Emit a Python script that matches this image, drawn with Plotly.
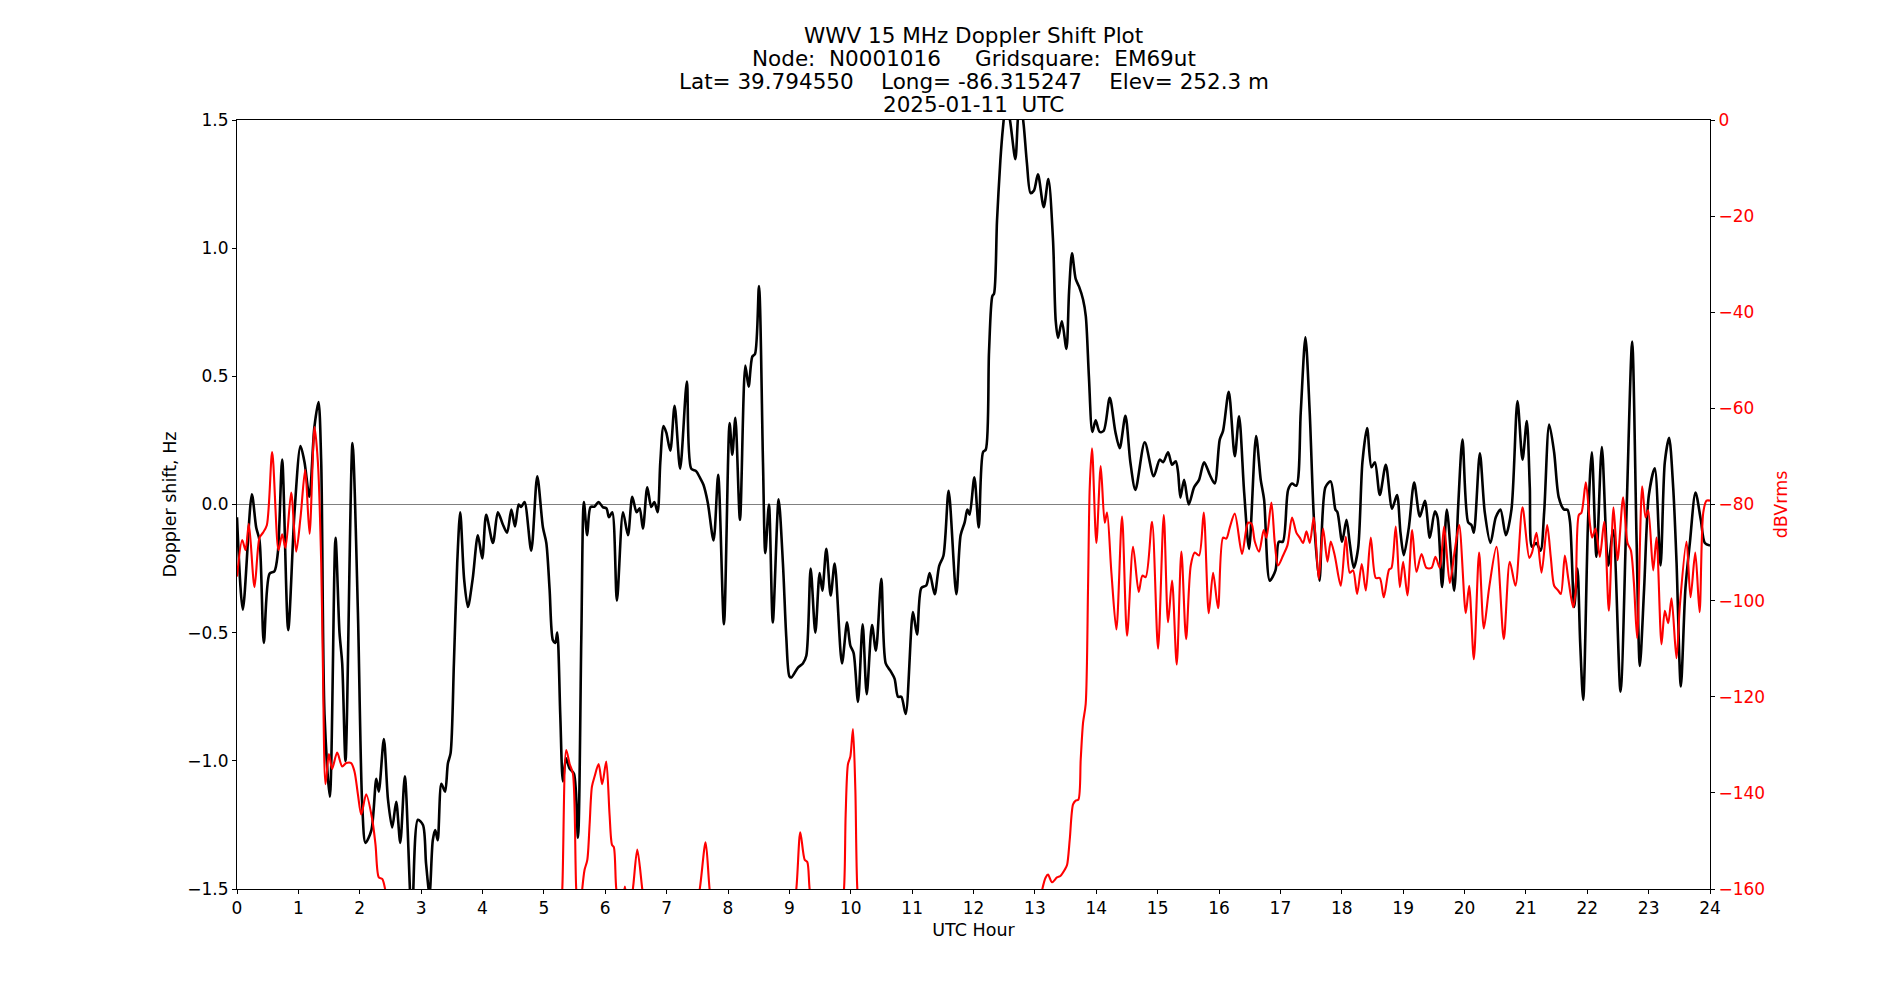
import plotly.graph_objects as go

# ---------------- data ----------------
doppler_hours = [0.0, 0.095, 0.242, 0.313, 0.367, 0.437, 0.53, 0.61, 0.665, 0.736, 0.834, 0.937, 1.035, 1.10, 1.18, 1.26, 1.328, 1.372, 1.426, 1.513, 1.605, 1.67, 1.714, 1.768, 1.882, 1.97, 2.04, 2.094, 2.19, 2.27, 2.31, 2.393, 2.46, 2.529, 2.594, 2.66, 2.735, 2.85, 2.947, 3.03, 3.08, 3.137, 3.19, 3.23, 3.27, 3.33, 3.39, 3.436, 3.48, 3.534, 3.588, 3.637, 3.70, 3.762, 3.84, 3.925, 3.996, 4.06, 4.17, 4.25, 4.33, 4.40, 4.47, 4.53, 4.59, 4.63, 4.685, 4.794, 4.892, 4.985, 5.04, 5.093, 5.147, 5.185, 5.218, 5.267, 5.31, 5.36, 5.42, 5.49, 5.555, 5.61, 5.652, 5.706, 5.76, 5.826, 5.89, 5.96, 6.02, 6.06, 6.114, 6.19, 6.29, 6.37, 6.44, 6.51, 6.56, 6.614, 6.685, 6.75, 6.80, 6.853, 6.897, 6.95, 6.995, 7.06, 7.13, 7.22, 7.33, 7.40, 7.48, 7.54, 7.60, 7.67, 7.765, 7.84, 7.934, 8.026, 8.07, 8.12, 8.195, 8.282, 8.336, 8.396, 8.44, 8.505, 8.57, 8.608, 8.667, 8.73, 8.825, 8.895, 8.95, 9.00, 9.032, 9.14, 9.22, 9.276, 9.347, 9.423, 9.493, 9.537, 9.602, 9.673, 9.738, 9.857, 9.94, 9.993, 10.047, 10.118, 10.194, 10.26, 10.346, 10.41, 10.498, 10.57, 10.65, 10.715, 10.77, 10.824, 10.895, 11.014, 11.08, 11.15, 11.23, 11.286, 11.367, 11.44, 11.51, 11.595, 11.72, 11.79, 11.856, 11.90, 11.937, 12.014, 12.085, 12.155, 12.2, 12.253, 12.307, 12.335, 12.383, 12.438, 12.48, 12.535, 12.60, 12.682, 12.725, 12.763, 12.818, 12.87, 12.93, 12.986, 13.05, 13.144, 13.22, 13.296, 13.34, 13.378, 13.44, 13.514, 13.557, 13.605, 13.665, 13.72, 13.785, 13.83, 13.88, 13.937, 13.99, 14.056, 14.12, 14.22, 14.312, 14.382, 14.475, 14.556, 14.638, 14.79, 14.936, 15.034, 15.09, 15.17, 15.235, 15.295, 15.333, 15.371, 15.431, 15.507, 15.594, 15.675, 15.757, 15.85, 15.93, 16.012, 16.066, 16.159, 16.257, 16.327, 16.41, 16.49, 16.604, 16.68, 16.735, 16.827, 16.92, 16.975, 17.04, 17.126, 17.19, 17.26, 17.332, 17.408, 17.478, 17.55, 17.636, 17.734, 17.82, 17.897, 17.93, 18.006, 18.077, 18.13, 18.196, 18.267, 18.337, 18.413, 18.484, 18.54, 18.62, 18.718, 18.82, 18.9, 18.957, 19.011, 19.093, 19.18, 19.272, 19.355, 19.435, 19.516, 19.56, 19.635, 19.712, 19.831, 19.896, 19.967, 20.06, 20.113, 20.152, 20.25, 20.33, 20.423, 20.51, 20.586, 20.673, 20.765, 20.863, 20.945, 21.015, 21.064, 21.1, 21.17, 21.24, 21.298, 21.38, 21.46, 21.537, 21.624, 21.678, 21.72, 21.787, 21.84, 21.885, 21.934, 22.015, 22.075, 22.15, 22.238, 22.341, 22.422, 22.542, 22.64, 22.732, 22.803, 22.857, 22.927, 23.004, 23.1, 23.194, 23.264, 23.334, 23.4, 23.455, 23.525, 23.6, 23.672, 23.764, 23.85, 23.916, 24.0]
doppler_hz = [-0.05, -0.41, 0.04, -0.09, -0.14, -0.54, -0.27, -0.26, -0.19, 0.175, -0.49, -0.03, 0.228, 0.165, 0.03, 0.30, 0.40, 0.165, -0.82, -1.14, -0.13, -0.50, -0.62, -1.0, 0.24, -0.42, -1.17, -1.32, -1.27, -1.07, -1.12, -0.915, -1.15, -1.26, -1.16, -1.32, -1.06, -1.62, -1.23, -1.25, -1.40, -1.52, -1.31, -1.27, -1.31, -1.09, -1.12, -1.01, -0.97, -0.62, -0.23, -0.03, -0.29, -0.40, -0.29, -0.12, -0.21, -0.04, -0.15, -0.03, -0.077, -0.11, -0.02, -0.086, 0.0, -0.01, 0.01, -0.18, 0.11, -0.09, -0.15, -0.33, -0.53, -0.54, -0.50, -0.82, -1.08, -0.99, -1.03, -1.05, -1.30, -0.52, 0.01, -0.12, -0.01, -0.008, 0.01, -0.01, -0.015, -0.05, -0.03, -0.375, -0.03, -0.12, 0.03, -0.03, -0.015, -0.094, 0.067, -0.01, 0.01, -0.03, 0.165, 0.306, 0.28, 0.21, 0.385, 0.14, 0.48, 0.14, 0.13, 0.106, 0.077, 0.008, -0.14, 0.116, -0.467, 0.318, 0.194, 0.338, -0.06, 0.542, 0.46, 0.577, 0.587, 0.852, 0.165, -0.19, 0.0, -0.46, 0.02, -0.23, -0.52, -0.67, -0.675, -0.636, -0.62, -0.59, -0.25, -0.50, -0.267, -0.336, -0.173, -0.355, -0.23, -0.62, -0.46, -0.55, -0.58, -0.77, -0.467, -0.74, -0.47, -0.57, -0.29, -0.62, -0.65, -0.68, -0.75, -0.75, -0.817, -0.42, -0.507, -0.326, -0.316, -0.267, -0.35, -0.24, -0.2, 0.053, -0.35, -0.12, -0.07, -0.02, -0.04, 0.106, -0.09, 0.204, 0.214, 0.597, 0.813, 0.823, 1.107, 1.343, 1.47, 1.58, 1.49, 1.347, 1.51, 1.58, 1.48, 1.333, 1.215, 1.225, 1.288, 1.16, 1.27, 1.03, 0.715, 0.65, 0.715, 0.607, 0.83, 0.98, 0.88, 0.85, 0.80, 0.734, 0.50, 0.283, 0.328, 0.283, 0.287, 0.416, 0.283, 0.22, 0.346, 0.165, 0.057, 0.243, 0.11, 0.175, 0.165, 0.204, 0.155, 0.169, 0.126, 0.027, 0.096, 0.0, 0.067, 0.096, 0.165, 0.116, 0.082, 0.253, 0.287, 0.44, 0.188, 0.344, 0.047, -0.173, 0.267, 0.096, 0.018, -0.297, -0.257, -0.145, -0.145, 0.057, 0.082, 0.073, 0.36, 0.652, 0.36, -0.07, -0.297, 0.067, 0.09, -0.02, -0.03, -0.145, -0.06, -0.15, -0.247, -0.17, 0.165, 0.298, 0.145, 0.165, 0.037, 0.155, -0.016, 0.037, -0.11, -0.198, -0.09, 0.086, -0.047, 0.014, -0.13, -0.027, -0.05, -0.322, -0.02, -0.336, -0.012, 0.253, -0.07, -0.08, -0.11, 0.2, -0.03, -0.15, -0.05, -0.02, -0.12, -0.02, 0.404, 0.175, 0.326, 0.067, -0.165, -0.15, -0.18, -0.03, 0.312, 0.204, 0.027, -0.02, -0.02, -0.07, -0.40, -0.25, -0.54, -0.762, -0.05, 0.204, -0.204, 0.224, -0.238, -0.1, -0.73, -0.03, 0.636, -0.13, -0.63, -0.326, 0.037, 0.141, -0.238, 0.165, 0.26, 0.067, -0.226, -0.71, -0.326, -0.15, 0.047, -0.06, -0.15, -0.16]

power_hours = [0.0, 0.085, 0.139, 0.193, 0.285, 0.367, 0.421, 0.486, 0.573, 0.676, 0.736, 0.79, 0.883, 0.964, 1.035, 1.111, 1.182, 1.263, 1.318, 1.372, 1.399, 1.442, 1.497, 1.55, 1.632, 1.714, 1.779, 1.86, 1.915, 1.97, 2.024, 2.105, 2.203, 2.257, 2.311, 2.366, 2.42, 2.5, 3.5, 4.5, 5.25, 5.30, 5.364, 5.42, 5.473, 5.527, 5.575, 5.625, 5.663, 5.707, 5.745, 5.783, 5.826, 5.892, 5.95, 6.016, 6.07, 6.11, 6.14, 6.18, 6.25, 6.32, 6.38, 6.45, 6.522, 6.603, 6.7, 7.4, 7.54, 7.635, 7.70, 7.8, 9.0, 9.113, 9.178, 9.249, 9.292, 9.33, 9.45, 9.8, 9.89, 9.917, 9.955, 9.993, 10.036, 10.075, 10.107, 10.2, 13.0, 13.122, 13.176, 13.214, 13.28, 13.36, 13.415, 13.486, 13.524, 13.568, 13.622, 13.665, 13.709, 13.747, 13.785, 13.828, 13.866, 13.894, 13.931, 14.002, 14.073, 14.138, 14.176, 14.247, 14.328, 14.42, 14.502, 14.6, 14.692, 14.752, 14.806, 14.909, 15.007, 15.1, 15.17, 15.235, 15.311, 15.387, 15.464, 15.54, 15.605, 15.675, 15.751, 15.833, 15.904, 15.985, 16.066, 16.12, 16.175, 16.257, 16.376, 16.474, 16.53, 16.583, 16.653, 16.729, 16.773, 16.854, 16.909, 16.963, 17.044, 17.115, 17.19, 17.262, 17.316, 17.37, 17.425, 17.479, 17.544, 17.625, 17.696, 17.767, 17.821, 17.886, 17.984, 18.066, 18.131, 18.185, 18.25, 18.326, 18.392, 18.473, 18.555, 18.62, 18.685, 18.772, 18.81, 18.88, 18.946, 19.0, 19.07, 19.147, 19.217, 19.3, 19.38, 19.462, 19.527, 19.598, 19.668, 19.76, 19.842, 19.913, 20.021, 20.076, 20.152, 20.238, 20.315, 20.401, 20.521, 20.64, 20.738, 20.83, 20.945, 21.055, 21.1, 21.173, 21.255, 21.347, 21.407, 21.461, 21.526, 21.57, 21.635, 21.69, 21.77, 21.809, 21.863, 21.906, 21.977, 22.042, 22.08, 22.135, 22.205, 22.276, 22.352, 22.428, 22.493, 22.585, 22.656, 22.71, 22.76, 22.813, 22.895, 22.95, 22.993, 23.074, 23.129, 23.21, 23.264, 23.319, 23.373, 23.454, 23.509, 23.617, 23.683, 23.76, 23.83, 23.89, 23.944, 24.0]
power_dbv = [-95, -87.4, -89.5, -84, -97.2, -86.9, -85.9, -84.3, -69.1, -89.5, -86.2, -89, -77.5, -89.8, -82.7, -72.8, -86.1, -63.9, -71.2, -92.1, -113, -138.2, -131.9, -135, -131.6, -134.5, -133.8, -133.8, -135.6, -140.3, -144.5, -140.3, -145.5, -150.8, -157.6, -157.9, -160.5, -170, -175, -175, -170, -160, -131.1, -134, -136, -160, -168, -160, -156, -154, -146.6, -138.7, -136.6, -134, -138.2, -133.5, -144.5, -150.8, -151.3, -160, -165, -159.5, -165, -160, -151.8, -160, -170, -170, -160, -150.3, -160, -170, -170, -160, -148.2, -153.9, -154.4, -160, -170, -170, -160, -144.5, -134, -132.5, -126.7, -139.3, -160, -175, -170, -160, -157.6, -157, -158.6, -157.6, -157.3, -156, -155, -149.7, -142.4, -141.6, -141.4, -133, -125.4, -121.5, -97.4, -76.4, -68.3, -88, -72, -83.8, -81.7, -94.2, -106, -82.5, -107.3, -88.8, -98.2, -94.8, -95.1, -83.6, -110, -82.2, -104.5, -95.8, -113.3, -89.8, -108, -92.7, -90, -90.6, -81.7, -102.6, -94.2, -101.6, -86.9, -87.1, -84.8, -81.9, -90.3, -83.8, -84, -87.7, -89.8, -85.3, -86.9, -79.6, -88, -92.7, -90.6, -88.5, -82.7, -85.9, -86.9, -88, -85.6, -88, -82.7, -95.5, -85, -91.9, -87.7, -90.6, -96.9, -86.7, -94.2, -93.7, -98.6, -92.4, -97.9, -86.9, -95.3, -95.3, -99.3, -93.5, -93.2, -84.6, -97.2, -91.9, -98.9, -85.3, -94, -90.3, -93.2, -93.2, -90.9, -93.2, -84.6, -96.3, -89.5, -84.3, -102.6, -96.9, -112.2, -90, -105.8, -97.4, -88.8, -108, -91.9, -96.9, -80.6, -91.1, -90, -85.9, -94.2, -84.3, -91.1, -96.9, -97.9, -98.6, -90.6, -95.3, -101.4, -98.4, -82.2, -81.7, -75.4, -83.8, -86.9, -85, -90.9, -83.6, -102.1, -80.6, -91.6, -78.5, -88, -89.5, -96.3, -107.8, -76.2, -82.7, -81.2, -93.7, -86.9, -109.1, -102.1, -104.7, -99.5, -112, -101, -87.7, -99.3, -90, -102.4, -81.7, -79.2, -79.2]

hour_ticks = list(range(0, 25))
doppler_ticks = [-1.5, -1.0, -0.5, 0.0, 0.5, 1.0, 1.5]
power_ticks = [0, -20, -40, -60, -80, -100, -120, -140, -160]

title_lines = [
    "WWV 15 MHz Doppler Shift Plot",
    "Node:  N0001016     Gridsquare:  EM69ut",
    "Lat= 39.794550    Long= -86.315247    Elev= 252.3 m",
    "2025-01-11  UTC",
]

FONT = "DejaVu Sans"

fig = go.Figure()
fig.add_trace(go.Scatter(x=doppler_hours, y=doppler_hz, mode="lines",
                         line=dict(color="black", width=2.6, shape="spline", smoothing=0.8),
                         yaxis="y", showlegend=False, hoverinfo="skip"))
fig.add_trace(go.Scatter(x=power_hours, y=power_dbv, mode="lines",
                         line=dict(color="red", width=2.1, shape="spline", smoothing=0.8),
                         yaxis="y2", showlegend=False, hoverinfo="skip"))

fig.add_shape(type="line", xref="x", yref="y", x0=0, x1=24, y0=0, y1=0,
              line=dict(color="#808080", width=1), layer="below")

annots = []
shifts = [85, 62, 39, 16]
for txt, s in zip(title_lines, shifts):
    annots.append(dict(text=txt, xref="paper", yref="paper", x=0.5, y=1,
                       xanchor="center", yanchor="middle", yshift=s, showarrow=False,
                       font=dict(family=FONT, size=21.5, color="black")))

fig.update_layout(
    width=1900, height=1000,
    margin=dict(l=237, r=190, t=120, b=111),
    paper_bgcolor="white", plot_bgcolor="white",
    font=dict(family=FONT, size=17, color="black"),
    annotations=annots,
    xaxis=dict(range=[0, 24], tickvals=hour_ticks, ticktext=[str(h) for h in hour_ticks],
               showgrid=False, zeroline=False, showline=True, linecolor="black", linewidth=1,
               mirror=True, ticks="outside", ticklen=4, tickwidth=1, tickcolor="black",
               tickfont=dict(family=FONT, size=17, color="black"),
               title=dict(text="UTC Hour", font=dict(family=FONT, size=17.5, color="black"), standoff=6)),
    yaxis=dict(range=[-1.5, 1.5], tickvals=doppler_ticks, tickformat=".1f",
               showgrid=False, zeroline=False, showline=True, linecolor="black", linewidth=1,
               ticks="outside", ticklen=4, tickwidth=1, tickcolor="black",
               tickfont=dict(family=FONT, size=17, color="black"),
               title=dict(text="Doppler shift, Hz", font=dict(family=FONT, size=17.5, color="black"), standoff=6)),
    yaxis2=dict(range=[-160, 0], tickvals=power_ticks, overlaying="y", side="right",
                showgrid=False, zeroline=False, showline=True, linecolor="black", linewidth=1,
                ticks="outside", ticklen=4, tickwidth=1, tickcolor="black",
                tickfont=dict(family=FONT, size=17, color="red"),
                title=dict(text="dBVrms", font=dict(family=FONT, size=17.5, color="red"), standoff=10)),
)

fig.write_html("out.html")
